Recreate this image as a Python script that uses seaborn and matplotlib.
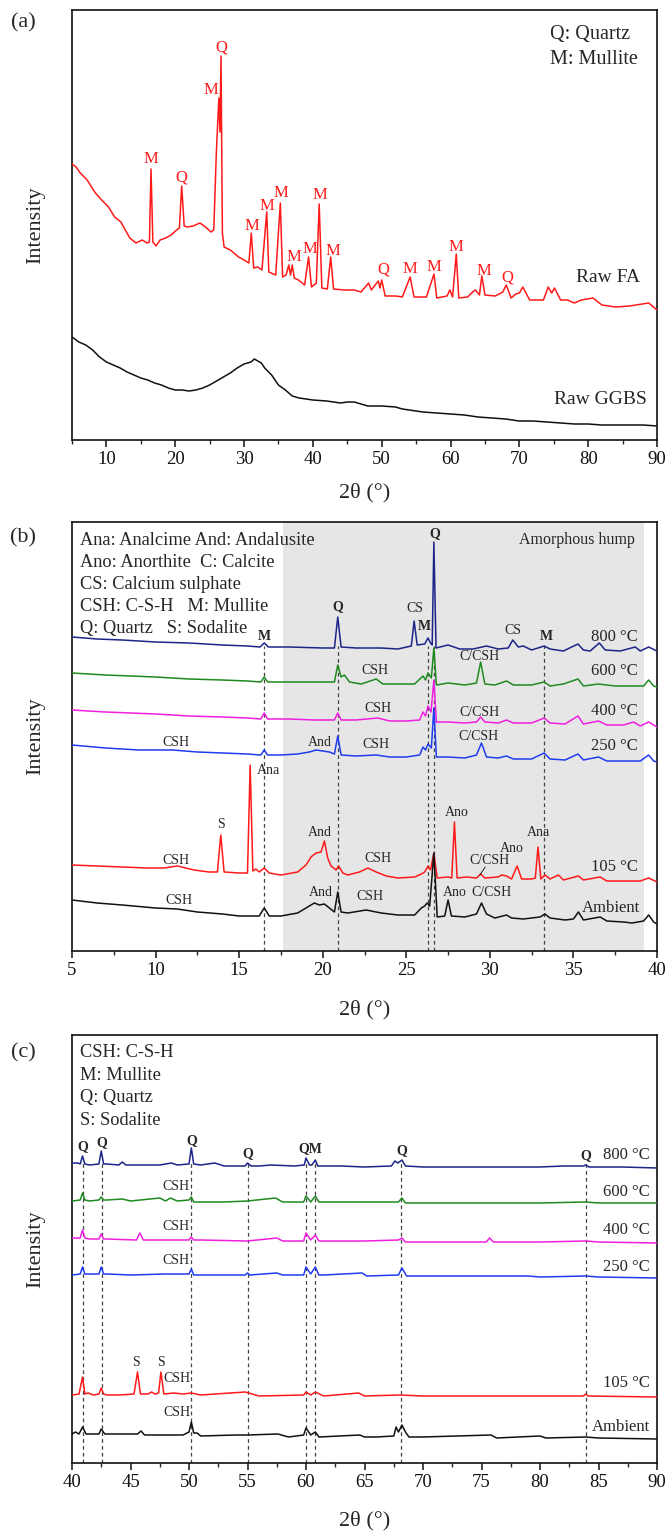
import numpy as np
import pandas as pd
import matplotlib
matplotlib.use("Agg")
import matplotlib.pyplot as plt
import seaborn as sns
from matplotlib.ticker import MultipleLocator

sns.set_theme(style="ticks")
plt.rcParams["font.family"] = ["Liberation Serif", "DejaVu Serif"]
plt.rcParams["axes.unicode_minus"] = False

# ---------------- (a) raw precursors: (2theta, counts) ----------------
raw_fa = [(5.0,166),(5.6,163),(6.2,157),(7.2,150),(8.4,137),(9.3,130),(10.3,123),(11.2,113),
          (12.1,108),(12.75,100),(13.4,92),(14.3,87),(15.2,90),(15.9,87),(16.25,88),(16.48,161),
          (16.75,88),(17.2,84),(17.8,90),(18.6,92),(19.4,95),(20.2,100),(20.6,102),(20.94,144),
          (21.3,104),(21.75,103),(22.6,104),(23.6,107),(24.4,103),(25.2,98),(25.6,100),(25.97,177),
          (26.34,232),(26.5,198),(26.65,274),(26.85,97),(27.1,83),(28.0,80),(29.2,73),(30.0,70),
          (30.7,67),(31.05,97),(31.4,62),(32.0,63),(32.6,60),(33.29,118),(33.6,58),(34.6,55),
          (35.27,127),(35.6,53),(36.1,55),(36.5,65),(36.75,55),(37.0,65),(37.3,52),(37.9,50),
          (38.8,45),(39.37,73),(39.8,43),(40.5,47),(40.92,126),(41.3,42),(42.1,41),(42.59,73),
          (43.0,41),(44.5,40),(46.0,40),(47.0,38),(48.1,47),(48.5,40),(49.5,49),(49.75,42),
          (50.0,50),(50.5,34),(52.0,34),(53.0,33),(54.13,53),(54.7,33),(56.5,33),(57.6,56),
          (58.0,32),(59.5,34),(59.9,40),(60.3,33),(60.83,76),(61.2,32),(62.5,33),(63.2,38),
          (63.6,40),(64.2,35),(64.55,54),(65.0,35),(66.5,34),(67.6,38),(68.09,45),(68.8,32),
          (69.5,36),(70.0,37),(70.5,43),(71.5,30),(73.5,30),(74.2,43),(74.7,37),(75.1,42),
          (76.0,30),(77.0,30),(78.0,27),(79.0,30),(80.7,32),(82.0,25),(84.0,23),(86.0,24),
          (88.8,27),(90.0,20)]
raw_ggbs = [(5,103),(6,98),(7,95),(8,90),(9,83),(10,78),(11,75),(12,72),(13,68),(14,65),(15,62),
            (16,60),(17,57),(18,55),(19,52),(20,50),(21,50),(22,49),(23,50),(24,52),(25,55),(26,59),
            (27,63),(28,67),(29,72),(30,76),(31,78),(31.5,81),(32,79),(32.5,77),(33,72),(34,65),
            (35,55),(36,50),(36.5,47),(37,44),(38,42),(40,40),(42,39),(44,37),(45,38),(46,38),
            (47,36),(48,34),(50,34),(52,33),(53,31),(54,30),(56,28),(58,27),(60,26),(62,25),(64,23),
            (66,22),(68,21),(70,19),(72,19),(74,18),(76,17),(78,16),(80,16),(82,15),(84,15),(86,15),
            (88,15),(90,14)]

# ---------------- (b) pastes, 5-40 deg ----------------
b_800 = [(5.0,14),(6.5,12),(8.0,11),(10.0,9),(12.0,8),(14.0,6),(15.5,5),(16.25,4),(16.5,8),(16.75,4),
         (18.0,4),(20.0,3),(20.7,3),(20.9,34),(21.1,4),(22.0,3),(23.5,3),(24.5,2),(25.3,5),(25.47,30),
         (25.65,6),(26.1,7),(26.3,13),(26.45,8),(26.55,6),(26.65,109),(26.78,3),(27.5,6),(28.2,2),
         (29.0,2),(29.8,5),(30.5,2),(31.1,3),(31.37,11),(31.7,4),(32.0,5),(32.5,1),(33.25,5),(33.6,2),
         (34.4,0),(35.27,7),(35.6,1),(36.0,0),(36.55,8),(36.9,1),(37.8,0),(38.7,4),(39.0,0),(39.5,4),
         (40.0,0)]
b_600 = [(5.0,15),(7.0,13),(10.0,11),(12.0,9),(14.0,8),(15.5,7),(16.3,6),(16.5,11),(16.7,6),(18.0,6),
         (19.5,6),(20.7,6),(20.9,23),(21.1,11),(21.3,13),(21.6,6),(22.3,4),(23.2,9),(23.6,4),(24.5,4),
         (25.5,4),(26.0,12),(26.15,8),(26.3,15),(26.5,10),(26.65,40),(26.8,3),(27.5,5),(28.5,3),(29.2,5),
         (29.45,26),(29.7,4),(30.3,3),(31.0,7),(31.4,3),(32.5,3),(33.25,6),(33.6,2),(34.4,4),(35.27,9),
         (35.6,2),(36.5,4),(37.5,2),(38.5,2),(39.2,2),(39.5,8),(39.8,2),(40.0,1)]
b_400 = [(5.0,18),(7.0,16),(10.0,14),(12.0,12),(14.0,11),(15.5,10),(16.3,9),(16.5,15),(16.7,9),(18.0,9),
         (19.5,8),(20.7,8),(20.9,15),(21.1,8),(22.0,8),(23.3,10),(24.0,7),(25.0,7),(25.8,8),(26.0,16),
         (26.15,12),(26.3,22),(26.48,16),(26.65,48),(26.8,6),(27.5,6),(28.5,5),(29.2,6),(29.45,11),
         (29.7,6),(30.5,5),(31.0,8),(31.4,5),(32.5,5),(33.25,10),(33.6,5),(34.5,4),(35.27,12),(35.6,4),
         (36.5,7),(37.0,3),(38.0,3),(38.6,6),(39.0,2),(39.5,6),(40.0,1)]
b_250 = [(5.0,18),(7.0,15),(9.0,13),(11.0,13),(12.5,11),(14.0,10),(15.5,9),(16.3,8),(16.5,13),(16.7,8),
         (17.5,8),(18.5,9),(19.2,11),(19.6,13),(20.0,12),(20.4,11),(20.7,9),(20.9,27),(21.1,8),(22.0,7),
         (23.2,8),(24.0,6),(25.0,6),(25.8,8),(26.0,16),(26.15,13),(26.3,19),(26.5,15),(26.65,55),
         (26.8,6),(27.5,6),(28.5,5),(29.2,8),(29.5,20),(29.8,6),(30.5,5),(31.0,7),(31.4,4),(32.5,4),
         (33.25,10),(33.6,4),(34.5,3),(35.27,9),(35.6,3),(36.5,6),(37.0,2),(38.0,2),(39.0,2),(39.5,8),
         (39.8,2),(40.0,1)]
b_105 = [(5.0,18),(6.5,17),(8.0,16),(9.5,15),(10.5,15),(11.3,17),(12.3,13),(13.2,11),(13.7,11),(13.9,48),
         (14.1,11),(15.0,10),(15.5,10),(15.66,118),(15.82,12),(16.0,14),(16.2,11),(16.5,15),(16.8,10),
         (17.5,8),(18.5,11),(19.0,18),(19.3,26),(19.6,30),(19.9,31),(20.1,42),(20.3,25),(20.5,17),
         (20.8,13),(20.95,17),(21.2,10),(21.5,8),(22.2,11),(22.7,15),(23.2,11),(23.8,7),(24.5,5),
         (25.5,6),(25.9,9),(26.1,11),(26.3,17),(26.45,13),(26.65,30),(26.85,5),(27.5,6),(27.72,5),
         (27.88,61),(28.04,5),(28.6,6),(29.2,5),(29.45,9),(29.7,5),(30.5,6),(30.7,8),(31.0,7),(31.3,4),
         (31.63,17),(31.9,4),(32.5,4),(32.72,5),(32.88,36),(33.05,4),(33.3,8),(33.6,4),(34.1,8),
         (34.4,3),(35.3,7),(35.6,3),(36.6,6),(37.0,2),(38.0,2),(39.0,2),(39.5,5),(40.0,1)]
b_ambient = [(5.0,25),(6.5,22),(8.0,20),(10.0,17),(11.3,16),(12.5,13),(14.0,11),(15.0,9),(16.2,9),
             (16.5,17),(16.8,9),(17.5,9),(18.5,12),(19.2,19),(19.5,22),(19.8,20),(20.1,21),(20.4,17),
             (20.7,13),(20.9,33),(21.1,13),(21.5,12),(22.6,15),(23.5,12),(24.5,10),(25.5,10),(25.9,17),
             (26.1,19),(26.25,22),(26.4,19),(26.65,72),(26.85,8),(27.3,9),(27.5,25),(27.7,9),(28.5,8),
             (29.2,11),(29.5,22),(29.8,11),(30.3,7),(31.0,10),(31.3,7),(32.0,6),(33.0,8),(33.3,11),
             (33.6,7),(34.5,5),(35.0,6),(35.3,13),(35.6,5),(36.6,8),(37.0,4),(38.0,3),(38.5,2),(39.2,4),
             (39.5,10),(39.8,3),(40.0,1)]

# ---------------- (c) pastes, 40-90 deg ----------------
c_800 = [(40.0,5),(40.5,5),(40.7,4),(40.9,12),(41.1,4),(41.5,3),(42.3,4),(42.5,17),(42.7,4),(43.0,4),
         (44.0,3),(44.3,6),(44.6,3),(46.0,3),(47.5,3),(48.5,5),(49.0,3),(50.0,4),(50.2,20),(50.4,4),
         (51.0,3),(52.2,5),(53.0,2),(54.8,2),(55.0,5),(55.3,2),(56.0,2),(57.0,3),(59.0,2),(59.85,3),
         (60.0,10),(60.3,3),(60.5,3),(60.8,8),(61.0,2),(63.0,2),(65.0,1),(67.3,2),(67.6,7),(67.85,5),
         (68.2,8),(68.5,2),(70.0,1),(75.0,1),(78.0,1),(80.0,1),(82.0,2),(83.7,2),(83.9,3),(84.2,1),
         (85.0,1),(87.0,1),(90.0,0)]
c_600 = [(40.0,4),(40.7,5),(40.9,12),(41.1,5),(41.5,4),(42.3,5),(42.5,8),(42.7,5),(43.0,5),(44.3,6),
         (45.0,4),(47.5,7),(48.0,4),(48.4,7),(49.0,4),(50.0,5),(50.2,8),(50.4,3),(51.0,3),(53.0,3),
         (55.0,4),(57.4,7),(58.0,3),(59.8,3),(60.0,9),(60.4,3),(60.8,9),(61.1,3),(61.5,3),(65.0,3),
         (67.9,3),(68.2,7),(68.5,2),(69.0,2),(75.0,2),(80.0,2),(83.9,3),(85.0,2),(90.0,2)]
c_400 = [(40.0,7),(40.7,7),(40.9,15),(41.1,7),(41.5,6),(42.3,6),(42.5,11),(42.7,6),(43.0,6),(45.5,5),
         (45.8,12),(46.1,5),(48.0,5),(50.0,5),(50.2,8),(50.4,5),(51.0,5),(55.0,4),(57.5,7),(58.0,4),
         (59.8,4),(60.0,12),(60.4,5),(60.8,10),(61.1,4),(61.5,4),(65.0,4),(67.9,5),(68.2,7),(68.5,3),
         (69.0,3),(75.4,3),(75.7,7),(76.0,3),(80.0,3),(83.9,4),(85.0,3),(90.0,2)]
c_250 = [(40.0,5),(40.7,6),(40.9,13),(41.1,6),(41.5,6),(42.3,6),(42.5,13),(42.7,6),(43.0,6),(45.0,5),
         (48.0,6),(50.0,6),(50.2,11),(50.4,5),(51.0,5),(54.8,5),(55.0,7),(55.2,5),(57.5,7),(58.0,5),
         (59.8,5),(60.0,13),(60.4,6),(60.8,13),(61.1,5),(61.5,5),(64.8,7),(65.2,4),(67.9,5),(68.2,12),
         (68.6,4),(69.0,4),(74.0,4),(79.0,4),(80.0,3),(83.9,4),(85.0,3),(90.0,2)]
c_105 = [(40.0,3),(40.6,4),(40.9,21),(41.1,4),(41.4,5),(41.8,3),(42.3,4),(42.5,10),(42.7,4),(43.0,3),
         (44.0,3),(45.3,4),(45.6,26),(45.85,4),(46.5,4),(46.8,6),(47.1,4),(47.4,5),(47.6,26),(47.85,4),
         (48.7,5),(49.5,4),(50.2,5),(51.0,3),(54.8,6),(56.0,2),(59.8,3),(60.0,6),(60.4,3),(60.8,6),
         (61.5,2),(64.5,5),(65.0,2),(68.0,3),(70.0,2),(75.0,2),(83.7,2),(83.9,4),(84.1,2),(90.0,1)]
c_ambient = [(40.0,6),(40.3,8),(40.6,6),(40.9,13),(41.2,6),(41.8,6),(42.3,6),(42.5,11),(42.8,6),(43.0,6),
             (45.6,6),(45.9,9),(46.2,5),(48.0,5),(49.5,5),(50.0,8),(50.2,18),(50.4,7),(50.7,7),(51.0,4),
             (54.0,5),(55.0,5),(57.6,6),(58.5,3),(59.8,5),(60.0,12),(60.4,5),(60.8,8),(61.1,3),(64.6,5),
             (65.0,3),(66.0,3),(67.5,4),(67.7,13),(67.9,8),(68.2,15),(68.5,8),(68.8,3),(70.0,3),(75.8,5),
             (76.3,2),(80.0,4),(80.5,2),(83.9,3),(85.0,2),(90.0,1)]

temperatures = ["800 °C", "600 °C", "400 °C", "250 °C", "105 °C", "Ambient"]
phase_lines_b = [16.5, 20.9, 26.3, 26.65, 33.25]
phase_lines_c = [40.9, 42.55, 50.2, 55.0, 60.0, 60.8, 68.15, 83.9]
key_a = ["Q: Quartz", "M: Mullite"]
key_b = ["Ana: Analcime And: Andalusite", "Ano: Anorthite  C: Calcite", "CS: Calcium sulphate",
         "CSH: C-S-H   M: Mullite", "Q: Quartz   S: Sodalite"]
key_c = ["CSH: C-S-H", "M: Mullite", "Q: Quartz", "S: Sodalite"]

# vertical stacking of the patterns
offsets_a = [110, 0]
offsets_b = [300, 263, 223, 188, 68, 26]
offsets_c = [295, 258, 218, 183, 65, 23]
colors = ["#1b2488", "#1f8a1f", "#f01ee0", "#1f3cf0", "#ff1a1a", "#111111"]

W, H = 669, 1534
fig = plt.figure(figsize=(W / 100, H / 100), dpi=100)


def axes_box(top_px, bottom_px):
    return [72 / W, 1 - bottom_px / H, 585 / W, (bottom_px - top_px) / H]


ax_a = fig.add_axes(axes_box(10, 440))
ax_b = fig.add_axes(axes_box(522, 951))
ax_c = fig.add_axes(axes_box(1035, 1463))


def draw(ax, pairs, offset, color, lw=1.1):
    df = pd.DataFrame(pairs, columns=["two_theta", "counts"])
    df["counts"] = df["counts"] + offset
    sns.lineplot(data=df, x="two_theta", y="counts", ax=ax, color=color,
                 lw=lw, estimator=None, sort=False, zorder=3)


def style_axes(ax, xlim, ylim, major, minor, xlabel_y):
    ax.set_xlim(*xlim)
    ax.set_ylim(*ylim)
    ax.set_yticks([])
    ax.xaxis.set_major_locator(MultipleLocator(major))
    ax.xaxis.set_minor_locator(MultipleLocator(minor))
    ax.tick_params(axis="x", which="major", direction="out", length=5, width=1.1,
                   labelsize=13.5, pad=3, colors="#111111")
    ax.tick_params(axis="x", which="minor", direction="out", length=3, width=1.0)
    for s in ax.spines.values():
        s.set_linewidth(1.2)
        s.set_color("#111111")
    ax.set_xlabel("2θ (°)", fontsize=16)
    ax.xaxis.set_label_coords(0.5, xlabel_y)
    ax.set_ylabel("Intensity", fontsize=16)
    ax.yaxis.set_label_coords(-0.045, 0.5)


def key_lines(ax, lines, x, y_top, step, size):
    for i, line in enumerate(lines):
        ax.text(x, y_top - i * step, line, transform=ax.transAxes, fontsize=size,
                ha="left", va="center", zorder=5)


# ---------------- panel (a) ----------------
draw(ax_a, raw_fa, offsets_a[0], "#ff1a1a")
draw(ax_a, raw_ggbs, offsets_a[1], "#111111")
style_axes(ax_a, (5, 90), (0, 430), 10, 5, -0.10)
ax_a.set_xticks([10, 20, 30, 40, 50, 60, 70, 80, 90])

fa_marks = [("M", 16.5, 281), ("Q", 20.9, 262), ("M", 25.15, 350), ("Q", 26.7, 392),
            ("M", 31.2, 214), ("M", 33.3, 234), ("M", 35.4, 247), ("M", 37.2, 183),
            ("M", 39.5, 191), ("M", 41.0, 245), ("M", 42.9, 189), ("Q", 50.3, 171),
            ("M", 54.1, 171), ("M", 57.55, 173), ("M", 60.8, 193), ("M", 64.8, 169),
            ("Q", 68.2, 163)]
for t, x, y in fa_marks:
    ax_a.text(x, y, t, color="#ff1a1a", fontsize=12, ha="center", va="center", zorder=4)
key_lines(ax_a, key_a, 0.817, 0.942, 0.056, 14.5)
ax_a.text(87.6, 162, "Raw FA", fontsize=14, ha="right", va="center")
ax_a.text(88.6, 40, "Raw GGBS", fontsize=14, ha="right", va="center")

# ---------------- panel (b) ----------------
ax_b.axvspan(17.6, 39.2, color="#e6e6e6", lw=0, zorder=0)
ax_b.vlines(phase_lines_b, 0, 305, colors="#444444", linestyles=(0, (3, 2.5)), lw=0.9, zorder=1)
for pairs, off, col in zip([b_800, b_600, b_400, b_250, b_105, b_ambient], offsets_b, colors):
    draw(ax_b, pairs, off, col)
style_axes(ax_b, (5, 40), (0, 429), 5, 2.5, -0.113)

b_label_y = [314, 280, 240, 205, 84, 43]
for name, y in zip(temperatures, b_label_y):
    ax_b.text(38.85 if name != "Ambient" else 39.0, y, name, fontsize=12, ha="right", va="center")

b_marks = [("CS", 25.5, 342), ("CS", 31.38, 320),
           ("CSH", 23.1, 280), ("C/CSH", 29.4, 294),
           ("CSH", 23.3, 243), ("C/CSH", 29.4, 239),
           ("CSH", 11.2, 209), ("And", 19.8, 209), ("CSH", 23.2, 207), ("C/CSH", 29.3, 214),
           ("S", 13.9, 127), ("Ana", 16.75, 181), ("CSH", 11.2, 91), ("And", 19.8, 118),
           ("CSH", 23.3, 93), ("Ano", 28.0, 139), ("C/CSH", 29.95, 91), ("Ano", 31.3, 103),
           ("Ana", 32.9, 118),
           ("CSH", 11.4, 51), ("And", 19.9, 58), ("CSH", 22.8, 54), ("Ano", 27.9, 58),
           ("C/CSH", 30.1, 58)]
for t, x, y in b_marks:
    ax_b.text(x, y, t, fontsize=10, ha="center", va="center", zorder=4)
b_bold = [("M", 16.5, 315), ("Q", 20.9, 344), ("M", 26.08, 324), ("Q", 26.72, 417), ("M", 33.36, 315)]
for t, x, y in b_bold:
    ax_b.text(x, y, t, fontsize=10, fontweight="bold", ha="center", va="center", zorder=4)
ax_b.plot([29.72, 29.4], [84, 76], color="#222222", lw=0.7, zorder=4)

key_lines(ax_b, key_b, 0.014, 0.958, 0.0513, 13.2)
ax_b.text(0.962, 0.958, "Amorphous hump", transform=ax_b.transAxes, fontsize=11.5,
          ha="right", va="center", zorder=5)

# ---------------- panel (c) ----------------
ax_c.vlines(phase_lines_c, 0, 300, colors="#444444", linestyles=(0, (3, 2.5)), lw=0.9, zorder=1)
for pairs, off, col in zip([c_800, c_600, c_400, c_250, c_105, c_ambient], offsets_c, colors):
    draw(ax_c, pairs, off, col)
style_axes(ax_c, (40, 90), (0, 428), 5, 2.5, -0.113)

c_label_y = [308, 271, 233, 196, 80, 36]
for name, y in zip(temperatures, c_label_y):
    ax_c.text(89.4, y, name, fontsize=12, ha="right", va="center")

c_bold = [("Q", 40.9, 316), ("Q", 42.55, 320), ("Q", 50.2, 322), ("Q", 55.0, 309),
          ("QM", 60.35, 314), ("Q", 68.2, 312), ("Q", 83.9, 307)]
for t, x, y in c_bold:
    ax_c.text(x, y, t, fontsize=10, fontweight="bold", ha="center", va="center", zorder=4)
c_marks = [("CSH", 48.9, 276), ("CSH", 48.9, 236), ("CSH", 48.9, 203),
           ("S", 45.5, 100), ("S", 47.6, 100), ("CSH", 49.0, 84), ("CSH", 49.0, 50)]
for t, x, y in c_marks:
    ax_c.text(x, y, t, fontsize=10, ha="center", va="center", zorder=4)
key_lines(ax_c, key_c, 0.014, 0.958, 0.0523, 13.2)

# panel letters
for lab, ypx in [("(a)", 23), ("(b)", 538), ("(c)", 1053)]:
    fig.text(23 / W, 1 - ypx / H, lab, fontsize=16, ha="center", va="center")

fig.savefig("out.png", dpi=100)
